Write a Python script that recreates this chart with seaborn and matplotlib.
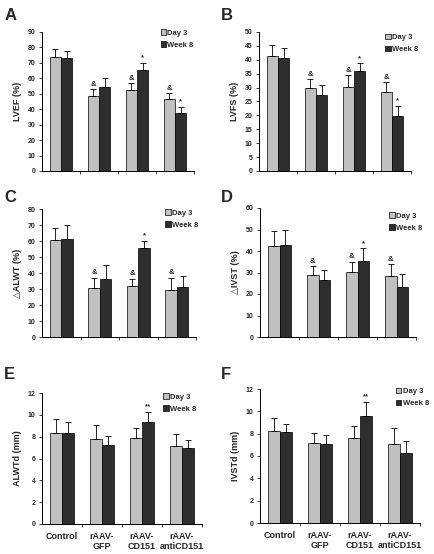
import seaborn as sns
import matplotlib.pyplot as plt
from matplotlib.patches import Patch
import pandas as pd

# Groups and time points
groups = ["Control", "rAAV-\nGFP", "rAAV-\nCD151", "rAAV-\nantiCD151"]
times = ["Day 3", "Week 8"]

# Panel A - LVEF (%)
lvef_day3 = [73.5, 48.5, 52.5, 46.5]
lvef_day3_sd = [5.5, 4.5, 4.5, 4.0]
lvef_week8 = [73.0, 54.5, 65.5, 37.5]
lvef_week8_sd = [4.5, 5.5, 4.5, 4.0]
lvef_marks_day3 = ["", "&", "&", "&"]
lvef_marks_week8 = ["", "", "*", "*"]

# Panel B - LVFS (%)
lvfs_day3 = [41.3, 29.7, 30.3, 28.5]
lvfs_day3_sd = [4.0, 3.3, 4.2, 3.4]
lvfs_week8 = [40.7, 27.3, 36.0, 19.8]
lvfs_week8_sd = [3.5, 3.5, 2.7, 3.7]
lvfs_marks_day3 = ["", "&", "&", "&"]
lvfs_marks_week8 = ["", "", "*", "*"]

# Panel C - delta ALWT (%)
alwt_day3 = [60.5, 30.5, 32.0, 29.5]
alwt_day3_sd = [7.5, 6.5, 4.5, 7.5]
alwt_week8 = [61.0, 36.5, 55.5, 31.5]
alwt_week8_sd = [9.0, 8.5, 4.5, 6.5]
alwt_marks_day3 = ["", "&", "&", "&"]
alwt_marks_week8 = ["", "", "*", ""]

# Panel D - delta IVST (%)
ivst_day3 = [42.3, 29.0, 30.2, 28.5]
ivst_day3_sd = [7.0, 4.0, 4.8, 5.5]
ivst_week8 = [43.0, 26.7, 35.3, 23.3]
ivst_week8_sd = [6.7, 4.3, 6.0, 5.8]
ivst_marks_day3 = ["", "&", "&", "&"]
ivst_marks_week8 = ["", "", "*", ""]

# Panel E - ALWTd (mm)
alwtd_day3 = [8.3, 7.75, 7.85, 7.15]
alwtd_day3_sd = [1.3, 1.35, 0.9, 1.05]
alwtd_week8 = [8.35, 7.25, 9.3, 6.95]
alwtd_week8_sd = [1.0, 0.85, 1.0, 0.7]
alwtd_marks_day3 = ["", "", "", ""]
alwtd_marks_week8 = ["", "", "**", ""]

# Panel F - IVSTd (mm)
ivstd_day3 = [8.2, 7.2, 7.6, 7.1]
ivstd_day3_sd = [1.2, 0.9, 1.05, 1.4]
ivstd_week8 = [8.15, 7.1, 9.6, 6.3]
ivstd_week8_sd = [0.75, 0.8, 1.25, 1.05]
ivstd_marks_day3 = ["", "", "", ""]
ivstd_marks_week8 = ["", "", "**", ""]

colors = ["#c0c0c0", "#2e2e2e"]

sns.set_theme(style="ticks")
plt.rcParams["font.family"] = ["Liberation Sans", "DejaVu Sans"]
plt.rcParams["font.weight"] = "bold"

W, H = 434, 554
fig = plt.figure(figsize=(W / 100, H / 100), dpi=100)


def add_axes_px(x0, y0, x1, y1):
    return fig.add_axes([x0 / W, 1 - y1 / H, (x1 - x0) / W, (y1 - y0) / H])


def draw_panel(ax, day3, day3_sd, week8, week8_sd, marks3, marks8,
               ylabel, ymax, ystep, letter, letter_xy, show_x, leg_anchor):
    df = pd.DataFrame({
        "group": groups * 2,
        "time": [times[0]] * 4 + [times[1]] * 4,
        "value": day3 + week8,
    })
    sns.barplot(data=df, x="group", y="value", hue="time", palette=colors,
                edgecolor="black", linewidth=0.5, width=0.6, errorbar=None,
                legend=False, ax=ax)
    for cont, vals, sds, marks in zip(ax.containers, [day3, week8],
                                      [day3_sd, week8_sd], [marks3, marks8]):
        xs = [p.get_x() + p.get_width() / 2 for p in cont]
        ax.errorbar(xs, vals, yerr=[[0] * 4, sds], fmt="none", ecolor="black",
                    elinewidth=0.6, capsize=2, capthick=0.6)
        for x, v, s, m in zip(xs, vals, sds, marks):
            if m:
                ax.annotate(m, (x, v + s), xytext=(0, 1), textcoords="offset points",
                            ha="center", va="bottom", fontsize=5.5, fontweight="bold")

    ax.set_ylim(0, ymax)
    ax.set_yticks([i * ystep for i in range(int(round(ymax / ystep)) + 1)])
    ax.set_yticklabels([f"{t:g}" for t in ax.get_yticks()], fontsize=5, fontweight="bold")
    ax.set_xlim(-0.5, 3.5)
    ax.set_xticks([0.5, 1.5, 2.5, 3.5], minor=True)
    ax.tick_params(axis="x", which="minor", length=2.5, width=0.6, direction="out")
    ax.tick_params(axis="x", which="major", length=0)
    ax.tick_params(axis="y", length=2.5, width=0.6, pad=2)
    if show_x:
        ax.set_xticks(range(4))
        ax.set_xticklabels(groups, fontsize=6.5, fontweight="bold", linespacing=1.1)
        ax.tick_params(axis="x", which="major", pad=6)
    else:
        ax.set_xticklabels([])
    ax.set_xlabel("")
    ax.set_ylabel(ylabel, fontsize=6.5, fontweight="bold", labelpad=4)
    sns.despine(ax=ax)
    for sp in ["left", "bottom"]:
        ax.spines[sp].set_linewidth(0.7)
        ax.spines[sp].set_color("black")

    handles = [Patch(facecolor=c, edgecolor="black", linewidth=0.5) for c in colors]
    ax.legend(handles, times, frameon=False,
              handlelength=0.7, handleheight=0.7, handletextpad=0.2,
              labelspacing=0.6, borderaxespad=0, loc="upper left",
              bbox_to_anchor=leg_anchor, prop={"weight": "bold", "size": 5.5})

    fig.text(letter_xy[0] / W, 1 - letter_xy[1] / H, letter, fontsize=12,
             fontweight="bold", ha="left", va="top")


axA = add_axes_px(42, 32, 194, 171)
axB = add_axes_px(259, 32, 411, 171)
axC = add_axes_px(42, 209, 196, 337)
axD = add_axes_px(260, 208, 416, 337)
axE = add_axes_px(42, 393, 202, 524)
axF = add_axes_px(260, 389, 420, 523)

draw_panel(axA, lvef_day3, lvef_day3_sd, lvef_week8, lvef_week8_sd,
           lvef_marks_day3, lvef_marks_week8, "LVEF (%)", 90, 10, "A", (5, 8), False, (0.76, 1.04))
draw_panel(axB, lvfs_day3, lvfs_day3_sd, lvfs_week8, lvfs_week8_sd,
           lvfs_marks_day3, lvfs_marks_week8, "LVFS (%)", 50, 5, "B", (221, 8), False, (0.81, 1.01))
draw_panel(axC, alwt_day3, alwt_day3_sd, alwt_week8, alwt_week8_sd,
           alwt_marks_day3, alwt_marks_week8, "\u25b3ALWT (%)", 80, 10, "C", (4, 190), False, (0.78, 1.02))
draw_panel(axD, ivst_day3, ivst_day3_sd, ivst_week8, ivst_week8_sd,
           ivst_marks_day3, ivst_marks_week8, "\u25b3IVST (%)", 60, 10, "D", (221, 190), False, (0.81, 0.99))
draw_panel(axE, alwtd_day3, alwtd_day3_sd, alwtd_week8, alwtd_week8_sd,
           alwtd_marks_day3, alwtd_marks_week8, "ALWTd (mm)", 12, 2, "E", (4, 367), True, (0.74, 1.02))
draw_panel(axF, ivstd_day3, ivstd_day3_sd, ivstd_week8, ivstd_week8_sd,
           ivstd_marks_day3, ivstd_marks_week8, "IVSTd (mm)", 12, 2, "F", (221, 367), True, (0.83, 1.03))

fig.savefig("out.png", dpi=100)
